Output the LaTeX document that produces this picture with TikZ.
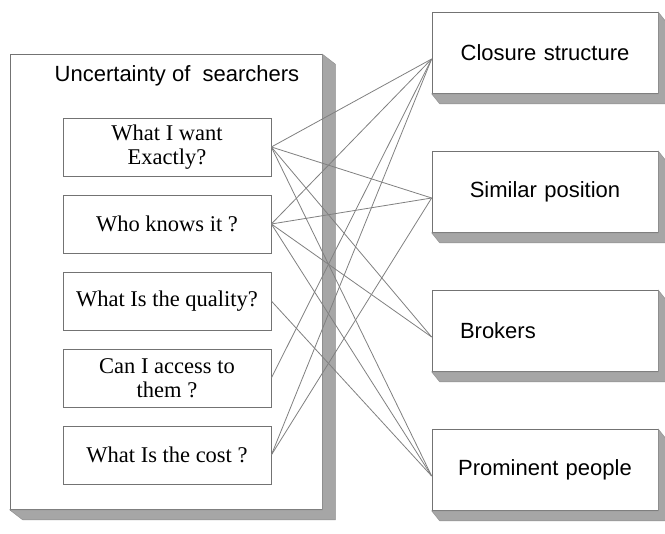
\documentclass[tikz,border=0pt]{standalone}
\usepackage{fontspec}
\setmainfont{Liberation Serif}
\newfontfamily\arialfont{Liberation Sans}

\begin{document}
\begin{tikzpicture}[x=1pt,y=-1pt,
  box/.style={draw=black!55,line width=.7pt,fill=white,inner sep=0pt},
  qbox/.style={box,minimum width=208pt,minimum height=58pt,align=center,font=\fontsize{22.5}{24}\selectfont},
  rbox/.style={box,minimum width=226pt,minimum height=81pt,align=center,text width=190pt,font=\arialfont\fontsize{22}{26}\selectfont},
  depth/.style={fill=black!35,draw=black!45,line width=.4pt},
  link/.style={black!50,line width=.8pt}]
  \useasboundingbox (0,0) rectangle (665,534);

  % left block
  \node[box,minimum width=312pt,minimum height=455pt] (unc) at (166,282) {};
  \fill[depth] (unc.north east) -- ++(13,10) |- ([shift={(13,10)}]unc.south west) -- (unc.south west) -- (unc.south east) -- cycle;
  \node[font=\arialfont\fontsize{22}{26}\selectfont] (title) at (177,76) {Uncertainty of\ \ searchers};
  \foreach \nm/\y/\txt in {want/147/{What I want\\Exactly?},knows/224/{Who knows it ?},quality/301/{What Is the quality?},access/378/{Can I access to\\them ?},cost/455/{What Is the cost ?}}
    \node[qbox] (\nm) at (167,\y) {\txt};

  % right blocks
  \foreach \nm/\y/\txt in {closure/53/Closure structure,similar/192/Similar position,prominent/470/Prominent people}
    \node[rbox] (\nm) at (545,\y) {\txt};
  \node[rbox,align=left,text width=170pt] (brokers) at (545,331) {Brokers};
  \foreach \nm in {closure,similar,brokers,prominent}
    \fill[depth] (\nm.north east) -- ++(8,10) |- ([shift={(8,10)}]\nm.south west) -- (\nm.south west) -- (\nm.south east) -- cycle;

  % links
  \foreach \a/\b in {want/closure,want/similar,want/brokers,want/prominent,knows/closure,knows/similar,knows/brokers,knows/prominent,quality/prominent,access/closure,cost/closure,cost/similar}
    \draw[link] (\a.east) -- ([yshift=-6pt]\b.west);
\end{tikzpicture}
\end{document}
